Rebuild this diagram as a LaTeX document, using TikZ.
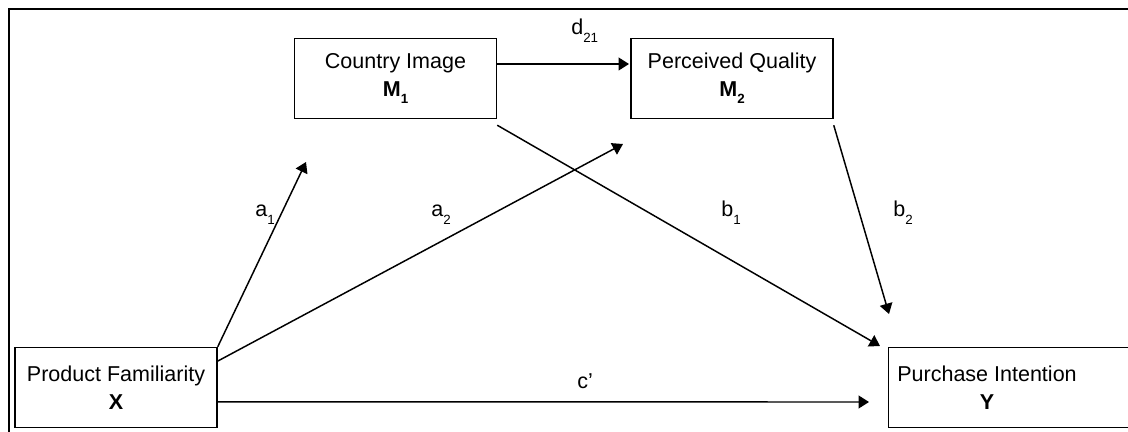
\documentclass[tikz,border=0pt]{standalone}
\usepackage{fontspec}
\setmainfont{Liberation Sans}
\usepackage{tikz}
\usetikzlibrary{positioning, arrows.meta}
\newcommand{\idx}[1]{\raisebox{-5pt}{\fontsize{9.5}{11}\selectfont #1}}

\begin{document}
\begin{tikzpicture}[x=0.025cm, y=-0.025cm,
	varbox/.style={draw, line width=1pt, minimum width=5.05cm, minimum height=2.0cm, align=center, text centered, font=\fontsize{15.3}{19.8}\selectfont},
	path/.style={-{Triangle[length=0.26cm, width=0.32cm]}, line width=1.05pt},
	coef/.style={anchor=base west, inner sep=0pt, font=\fontsize{15.3}{18}\selectfont}]

		\useasboundingbox (0,0) rectangle (1128,432);
		\draw[line width=1.4pt] (9,450) -- (9,9) -- (1200,9);

		% nodes - variables %
		\node[varbox] (m1) at (395.5,78.5) {Country Image\\\textbf{M\idx{1}}};
		\node[varbox] (m2) at (732,78.5) {Perceived Quality\\\textbf{M\idx{2}}};
		\node[varbox] (x) at (116,387.5) {Product Familiarity\\\textbf{X}};
		\node[varbox, minimum width=8cm, anchor=west] (y) at (888,387.5) {};
		\node[text centered, align=center, font=\fontsize{15.3}{19.8}\selectfont] (ytext) at (987,387.5) {Purchase Intention\\\textbf{Y}};

		% arrow tips %
		\coordinate (d21tip) at (629,64);
		\coordinate (a1tip) at (306,162);
		\coordinate (a2tip) at (623,144);
		\coordinate (b1tip) at (880,346);
		\coordinate (b2tip) at (889,314);
		\coordinate (ctip) at (869,402);

		% edges %
		\draw[path] (m1.east |- d21tip) -- (d21tip);
		\draw[path] (x.north east) -- (a1tip);
		\draw[path] ([yshift=0.66cm]x.east) -- (a2tip);
		\draw[path] ([yshift=-0.15cm]m1.south east) -- (b1tip);
		\draw[path] ([yshift=-0.15cm]m2.south east) -- (b2tip);
		\draw[path] ([yshift=-0.36cm]x.east) -- (ctip);

		% labels %
		\node[coef] (d21) at (571,35) {d\idx{21}};
		\node[coef] (a1) at (255,217) {a\idx{1}};
		\node[coef] (a2) at (431,217) {a\idx{2}};
		\node[coef] (b1) at (721,217) {b\idx{1}};
		\node[coef] (b2) at (893,217) {b\idx{2}};
		\node[coef] (c) at (577,388) {c’};

		\end{tikzpicture}
\end{document}
